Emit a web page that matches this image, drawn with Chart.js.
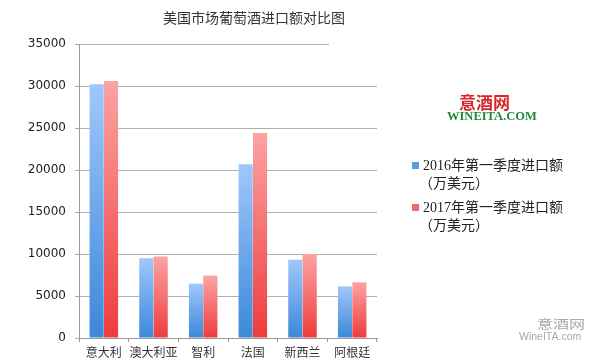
<!DOCTYPE html>
<html><head><meta charset="utf-8">
<script src="https://cdn.jsdelivr.net/npm/chart.js@4/dist/chart.umd.min.js"></script>
<style>
html,body{margin:0;padding:0;background:#fff;}
#wrap{position:relative;width:600px;height:362px;overflow:hidden;}
canvas{position:absolute;left:0;top:0;}
.t{position:absolute;white-space:nowrap;}
#title{left:163px;top:7px;font:14px "Noto Sans CJK SC",sans-serif;color:#333;}
#logoBg{position:absolute;left:329px;top:38px;width:60px;height:12px;background:#fff;}
#logo1{left:459px;top:93px;font:bold 17px/17px "Noto Sans CJK SC",serif;color:#d8262b;}
#logo2{left:447px;top:110px;font:bold 12.5px/12px "Liberation Serif",serif;color:#1f8a3b;}
.leg{left:412px;font:14px "Liberation Serif","Noto Sans CJK SC",serif;color:#222;line-height:18px;}
.sw{display:inline-block;width:7px;height:7px;margin-right:4px;vertical-align:1px;}
#wm1{left:537px;top:317px;font:16px/16px "Noto Sans CJK SC",sans-serif;color:#a8a8a8;transform:scaleY(0.78);transform-origin:0 0;}
#wm2{left:519px;top:331px;font:10.5px/10px "Liberation Sans",sans-serif;color:#a8a8a8;}
</style></head>
<body><div id="wrap">
<canvas id="c" width="600" height="362"></canvas>
<div id="logoBg"></div>
<div class="t" id="title">美国市场葡萄酒进口额对比图</div>
<div class="t" id="logo1">意酒网</div>
<div class="t" id="logo2">WINEITA.COM</div>
<div class="t leg" id="leg1" style="top:157px"><span class="sw" style="background:#5d9be3"></span>2016年第一季度进口额<br>&nbsp;&nbsp;（万美元）</div>
<div class="t leg" id="leg2" style="top:199px"><span class="sw" style="background:#f06a6a"></span>2017年第一季度进口额<br>&nbsp;&nbsp;（万美元）</div>
<div class="t" id="wm1">意酒网</div>
<div class="t" id="wm2">WineITA.com</div>
</div>
<script>
const categories = ["意大利","澳大利亚","智利","法国","新西兰","阿根廷"];
const series2016 = [30200, 9500, 6470, 20680, 9330, 6150];
const series2017 = [30600, 9700, 7430, 24400, 10000, 6630];
const seriesNames = ["2016年第一季度进口额（万美元）","2017年第一季度进口额（万美元）"];
const yTicks = [0,5000,10000,15000,20000,25000,30000,35000];

function grad(top, bottom, fallback){
  return function(ctx){
    const chart = ctx.chart;
    const y = chart.scales && chart.scales.y;
    if(!y || ctx.raw === undefined || !chart.chartArea) return fallback;
    const y0 = y.getPixelForValue(0), y1 = y.getPixelForValue(ctx.raw);
    if(!isFinite(y0) || !isFinite(y1) || y0 === y1) return fallback;
    const g = chart.ctx.createLinearGradient(0, y1, 0, y0);
    g.addColorStop(0, top); g.addColorStop(1, bottom);
    return g;
  };
}

new Chart(document.getElementById('c'), {
  type: 'bar',
  data: {
    labels: categories,
    datasets: [
      {label: seriesNames[0], data: series2016, backgroundColor: grad('#a0c7fc','#3c88d8','#5d9be3'), borderWidth: 0},
      {label: seriesNames[1], data: series2017, backgroundColor: grad('#fca3a3','#ee3c3c','#f06a6a'), borderWidth: 0}
    ]
  },
  options: {
    responsive: false, animation: false,
    layout: {padding: {left: 0, right: 223, top: 44, bottom: 0}},
    plugins: {legend: {display: false}, title: {display: false}, tooltip: {enabled: false}},
    datasets: {bar: {categoryPercentage: 0.58, barPercentage: 0.98}},
    scales: {
      x: {
        grid: {display: true, drawOnChartArea: false, drawTicks: true, tickLength: 4, color: '#999', offset: true},
        border: {color: '#999', width: 1},
        ticks: {font: {family: '"Noto Sans CJK SC", sans-serif', size: 12}, color: '#333', padding: 3, maxRotation: 0, autoSkip: false},
        afterFit: s => { s.height = 24; }
      },
      y: {
        min: 0, max: 35000,
        afterBuildTicks: s => { s.ticks = yTicks.map(v => ({value: v})); },
        grid: {color: '#b0b0b0', tickLength: 4, lineWidth: 1},
        border: {color: '#999', width: 1},
        ticks: {font: {family: '"DejaVu Sans", sans-serif', size: 12}, color: '#222', padding: 9, callback: v => String(v)},
        afterFit: s => { s.width = 79; }
      }
    }
  }
});
</script>
</body></html>
